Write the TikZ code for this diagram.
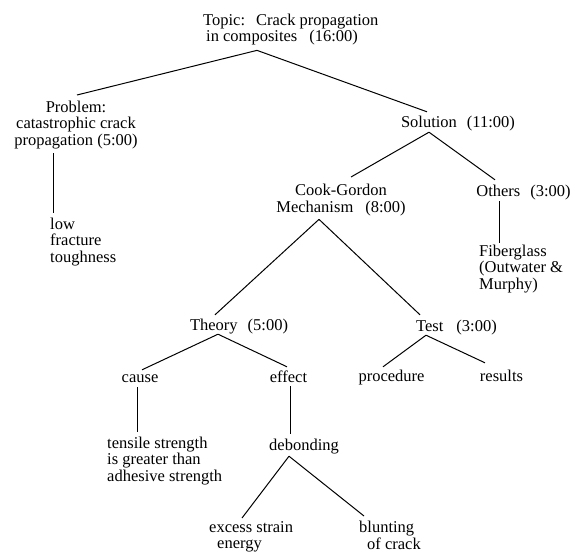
\documentclass[tikz,border=0pt]{standalone}
\usepackage{fontspec}
\setmainfont{Liberation Serif}
\begin{document}
\begin{tikzpicture}[x=1pt,y=-1pt,
  every node/.style={font=\fontsize{16.5}{16.5}\selectfont, inner sep=0pt},
  one/.style={anchor=base, text height=11pt, text depth=3.5pt},
  multic/.style={anchor=north, align=center},
  multil/.style={anchor=north west, align=left},
  conn/.style={line width=1pt, draw=black}]
\useasboundingbox[fill=white] (0,0) rectangle (575,555);
% nodes
\node[multil] (topic) at (203,13.5) {Topic:\hspace{11pt}Crack propagation\\\hspace{3pt}in composites\hspace{12pt}(16:00)};
\node[multic] (problem) at (76,100.5) {Problem:\\catastrophic crack\\propagation (5:00)};
\node[multil] (low) at (50,217.5) {low\\fracture\\toughness};
\node[one] (solution) at (458,127) {Solution\hspace{10pt}(11:00)};
\node[multic] (cook) at (341,184) {Cook-Gordon\\Mechanism\hspace{12pt}(8:00)};
\node[one] (others) at (523.5,196) {Others\hspace{10pt}(3:00)};
\node[multil] (fiber) at (479,244.5) {Fiberglass\\(Outwater \&\\Murphy)};
\node[one] (theory) at (239,330) {Theory\hspace{10pt}(5:00)};
\node[one] (test) at (456.5,331) {Test\hspace{13pt}(3:00)};
\node[one] (cause) at (140,382) {cause};
\node[one] (effect) at (288.5,382) {effect};
\node[one] (procedure) at (391.5,381) {procedure};
\node[one] (results) at (501.5,381) {results};
\node[multil] (tensile) at (107,436.5) {tensile strength\\is greater than\\adhesive strength};
\node[one] (debonding) at (304,450) {debonding};
\node[multil] (excess) at (209,521) {excess strain\\\hspace{8pt}energy};
\node[multil] (blunting) at (359,521) {blunting\\\hspace{8pt}of crack};
% connectors
\draw[conn] ([xshift=54pt,yshift=-5pt]topic.south west) -- ([xshift=1pt,yshift=5.5pt]problem.north);
\draw[conn] ([xshift=54pt,yshift=-5pt]topic.south west) -- ([xshift=-31pt,yshift=4pt]solution.north);
\draw[conn] ([xshift=-23pt,yshift=-4.5pt]problem.south) -- ([xshift=3pt,yshift=4.5pt]low.north west);
\draw[conn] ([xshift=-29pt,yshift=-1.5pt]solution.south) -- ([xshift=10pt,yshift=7pt]cook.north);
\draw[conn] ([xshift=-29pt,yshift=-1.5pt]solution.south) -- ([xshift=-28.5pt,yshift=5pt]others.north);
\draw[conn] ([xshift=-24.5pt,yshift=-1.5pt]others.south) -- ([xshift=20pt,yshift=1.5pt]fiber.north west);
\draw[conn] ([xshift=-22pt,yshift=-3.5pt]cook.south) -- ([xshift=-24pt,yshift=4pt]theory.north);
\draw[conn] ([xshift=-22pt,yshift=-3.5pt]cook.south) -- ([xshift=-36.5pt,yshift=5pt]test.north);
\draw[conn] ([xshift=-21pt,yshift=-0.5pt]theory.south) -- ([xshift=2pt,yshift=1pt]cause.north);
\draw[conn] ([xshift=-21pt,yshift=-0.5pt]theory.south) -- ([xshift=-1.5pt,yshift=4pt]effect.north);
\draw[conn] ([xshift=-30.5pt,yshift=-0.5pt]test.south) -- ([xshift=-8.5pt,yshift=3pt]procedure.north);
\draw[conn] ([xshift=-30.5pt,yshift=-0.5pt]test.south) -- ([xshift=-16.5pt,yshift=7pt]results.north);
\draw[conn] ([xshift=-3pt,yshift=-1.5pt]cause.south) -- ([xshift=30pt,yshift=4.5pt]tensile.north west);
\draw[conn] ([xshift=1.5pt,yshift=-0.5pt]effect.south) -- ([xshift=-14pt,yshift=5pt]debonding.north);
\draw[conn] ([xshift=-15pt,yshift=-2.5pt]debonding.south) -- ([xshift=33pt,yshift=3pt]excess.north west);
\draw[conn] ([xshift=-15pt,yshift=-2.5pt]debonding.south) -- ([xshift=5pt,yshift=5pt]blunting.north west);
\end{tikzpicture}
\end{document}
